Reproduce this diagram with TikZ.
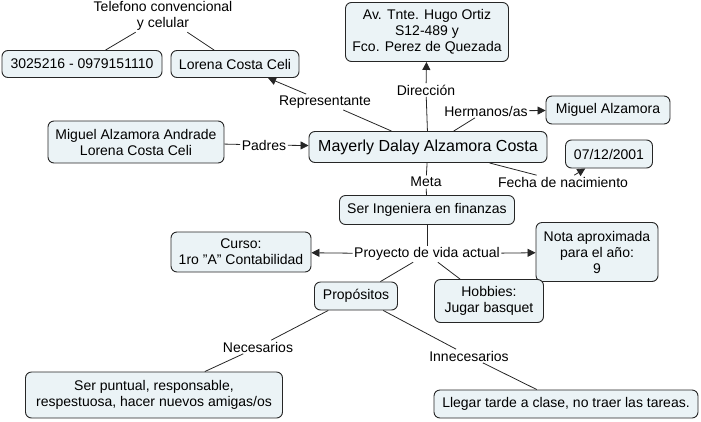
\documentclass[tikz,border=0pt]{standalone}
\usepackage{fontspec}
\setmainfont{Liberation Sans}
\usetikzlibrary{arrows.meta}
\definecolor{boxfill}{HTML}{EBF3F6}
\tikzset{
  concept/.style={draw=black!85, fill=boxfill, rounded corners=6pt, line width=0.9pt,
    align=center, inner sep=0pt, font=\fontsize{14}{16}\selectfont},
  linklbl/.style={inner sep=1.5pt, align=center, font=\fontsize{14}{16}\selectfont},
  conn/.style={draw=black!85, line width=0.8pt},
  arr/.style={conn, -{Triangle[length=8pt,width=8pt]}},
}
\begin{document}
\begin{tikzpicture}[x=1pt,y=-1pt]
\useasboundingbox (0,0) rectangle (701,421);
% concepts
\node[concept, minimum width=160pt, minimum height=27pt] (phone) at (82,64) {3025216 - 0979151110};
\node[concept, minimum width=128pt, minimum height=27pt] (lorena) at (235,64) {Lorena Costa Celi};
\node[concept, minimum width=163pt, minimum height=59pt] (addr) at (427,32) {Av. Tnte. Hugo Ortiz\\S12-489 y\\Fco. Perez de Quezada};
\node[concept, minimum width=124pt, minimum height=28pt] (miguel) at (608,110) {Miguel Alzamora};
\node[concept, minimum width=176pt, minimum height=42pt] (parents) at (136,142) {Miguel Alzamora Andrade\\Lorena Costa Celi};
\node[concept, minimum width=238pt, minimum height=31pt, font=\fontsize{16}{18}\selectfont] (main) at (428,147) {Mayerly Dalay Alzamora Costa};
\node[concept, minimum width=87pt, minimum height=28pt] (date) at (609,154) {07/12/2001};
\node[concept, minimum width=175pt, minimum height=29pt] (goal) at (427,210) {Ser Ingeniera en finanzas};
\node[concept, minimum width=140pt, minimum height=40pt] (curso) at (241,252) {Curso:\\1ro "A" Contabilidad};
\node[concept, minimum width=122pt, minimum height=59pt] (nota) at (597,252) {Nota aproximada\\para el año:\\9};
\node[concept, minimum width=83pt, minimum height=28pt] (prop) at (356,296) {Propósitos};
\node[concept, minimum width=109pt, minimum height=43pt] (hobby) at (489,301) {Hobbies:\\ Jugar basquet};
\node[concept, minimum width=257pt, minimum height=46pt] (nec) at (154,395) {Ser puntual, responsable,\\respestuosa, hacer nuevos amigas/os};
\node[concept, minimum width=264pt, minimum height=28pt] (innec) at (566,404) {Llegar tarde a clase, no traer las tareas.};
% linking phrases
\node[linklbl] (ltel) at (163,16) {Telefono convencional\\y celular};
\node[linklbl] (lrep) at (325,102) {Representante};
\node[linklbl] (ldir) at (426,90) {Dirección};
\node[linklbl] (lher) at (486,111) {Hermanos/as};
\node[linklbl] (lpad) at (264,145) {Padres};
\node[linklbl] (lmeta) at (426,182) {Meta};
\node[linklbl] (lfecha) at (563,182) {Fecha de nacimiento};
\node[linklbl] (lproy) at (427,254) {Proyecto de vida actual};
\node[linklbl] (lnec) at (258,347) {Necesarios};
\node[linklbl] (linn) at (469,356) {Innecesarios};
% connectors
\draw[conn] (ltel) -- (phone);
\draw[conn] (ltel) -- (lorena);
\draw[conn] (main) -- (lrep);
\draw[arr] (lrep) -- (lorena);
\draw[conn] (main) -- (ldir);
\draw[arr] (ldir) -- (addr);
\draw[conn] (main) -- (lher);
\draw[arr] (lher) -- (miguel);
\draw[conn] (parents) -- (lpad);
\draw[arr] (lpad) -- (main);
\draw[conn] (main) -- (lmeta);
\draw[conn] (lmeta) -- (goal);
\draw[conn] (main) -- (lfecha);
\draw[arr] (lfecha) -- (date);
\draw[conn] (goal) -- (lproy);
\draw[arr] (lproy) -- (curso);
\draw[arr] (lproy) -- (nota);
\draw[conn] (lproy) -- (prop);
\draw[conn] (lproy) -- (hobby);
\draw[conn] (prop) -- (lnec);
\draw[conn] (lnec) -- (nec);
\draw[conn] (prop) -- (linn);
\draw[conn] (linn) -- (innec);
\end{tikzpicture}
\end{document}
